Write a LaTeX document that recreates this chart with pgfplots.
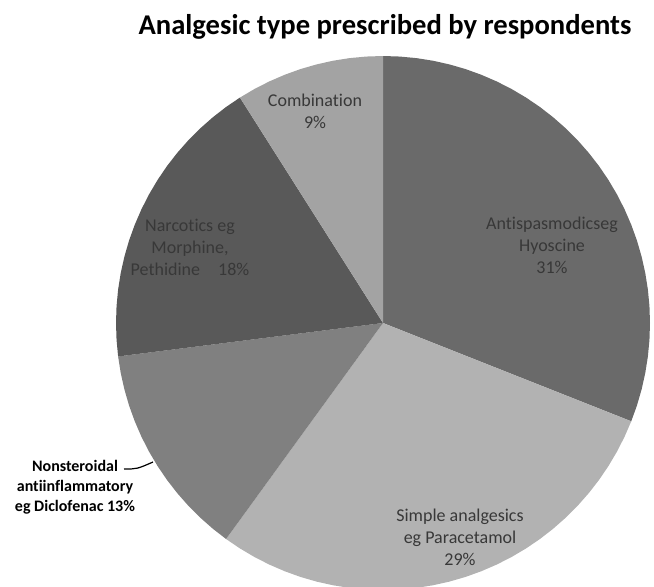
\documentclass[border=0pt]{standalone}
\usepackage{pgfplots}
\pgfplotsset{compat=1.18}
\usepackage{fontspec}
\setmainfont[Ligatures=NoCommon]{Carlito}
\definecolor{cAnti}{HTML}{6A6A6A}
\definecolor{cSimple}{HTML}{B2B2B2}
\definecolor{cNsaid}{HTML}{808080}
\definecolor{cNarc}{HTML}{595959}
\definecolor{cComb}{HTML}{A3A3A3}
\begin{document}
\begin{tikzpicture}
\begin{axis}[
  scale only axis, width=327pt, height=293pt,
  xmin=-383, xmax=271, ymin=-263, ymax=323,
  hide axis, clip=true,
]
% Antispasmodics eg Hyoscine 31%  (90 -> -21.6 deg)
\addplot[fill=cAnti, draw=none, data cs=polar] coordinates {
(0,0) (90,267) (86.4,267) (82.8,267) (79.2,267) (75.6,267) (72,267) (68.4,267) (64.8,267)
(61.2,267) (57.6,267) (54,267) (50.4,267) (46.8,267) (43.2,267) (39.6,267) (36,267)
(32.4,267) (28.8,267) (25.2,267) (21.6,267) (18,267) (14.4,267) (10.8,267) (7.2,267)
(3.6,267) (0,267) (-3.6,267) (-7.2,267) (-10.8,267) (-14.4,267) (-18,267) (-21.6,267)
} -- cycle;
% Simple analgesics eg Paracetamol 29%  (-21.6 -> -126)
\addplot[fill=cSimple, draw=none, data cs=polar] coordinates {
(0,0) (-21.6,267) (-25.2,267) (-28.8,267) (-32.4,267) (-36,267) (-39.6,267) (-43.2,267)
(-46.8,267) (-50.4,267) (-54,267) (-57.6,267) (-61.2,267) (-64.8,267) (-68.4,267)
(-72,267) (-75.6,267) (-79.2,267) (-82.8,267) (-86.4,267) (-90,267) (-93.6,267)
(-97.2,267) (-100.8,267) (-104.4,267) (-108,267) (-111.6,267) (-115.2,267) (-118.8,267)
(-122.4,267) (-126,267)
} -- cycle;
% Nonsteroidal antiinflammatory 13%  (-126 -> -172.8)
\addplot[fill=cNsaid, draw=none, data cs=polar] coordinates {
(0,0) (-126,267) (-129.6,267) (-133.2,267) (-136.8,267) (-140.4,267) (-144,267)
(-147.6,267) (-151.2,267) (-154.8,267) (-158.4,267) (-162,267) (-165.6,267)
(-169.2,267) (-172.8,267)
} -- cycle;
% Narcotics 18%  (-172.8 -> -237.6)
\addplot[fill=cNarc, draw=none, data cs=polar] coordinates {
(0,0) (-172.8,267) (-176.4,267) (-180,267) (-183.6,267) (-187.2,267) (-190.8,267)
(-194.4,267) (-198,267) (-201.6,267) (-205.2,267) (-208.8,267) (-212.4,267) (-216,267)
(-219.6,267) (-223.2,267) (-226.8,267) (-230.4,267) (-234,267) (-237.6,267)
} -- cycle;
% Combination 9%  (-237.6 -> -270)
\addplot[fill=cComb, draw=none, data cs=polar] coordinates {
(0,0) (-237.6,267) (-241.2,267) (-244.8,267) (-248.4,267) (-252,267) (-255.6,267)
(-259.2,267) (-262.8,267) (-266.4,267) (-270,267)
} -- cycle;

\path (rel axis cs:0,0) (rel axis cs:1,1);

\node[font=\bfseries\fontsize{14.3}{16}\selectfont, inner sep=0pt] at (axis cs:2,296) {Analgesic type prescribed by respondents};

\begin{scope}[every node/.style={align=center, inner sep=0pt, text=black!78, font=\fontsize{9}{11}\selectfont}]
\node at (axis cs:-68,211.5) {Combination\\9\%};
\node at (axis cs:-193,76) {Narcotics eg\\Morphine,\\Pethidine\quad 18\%};
\node at (axis cs:169,78) {Antispasmodicseg\\Hyoscine\\31\%};
\node at (axis cs:77,-214) {Simple analgesics\\eg Paracetamol\\29\%};
\end{scope}
\node[align=center, inner sep=0pt, font=\bfseries\fontsize{8}{10}\selectfont] at (axis cs:-308,-164) {Nonsteroidal\\antiinflammatory\\eg Diclofenac 13\%};
\draw[black, line width=0.6pt] (axis cs:-259,-146) .. controls (axis cs:-246,-146) .. (axis cs:-230,-139);
\end{axis}
\end{tikzpicture}
\end{document}
